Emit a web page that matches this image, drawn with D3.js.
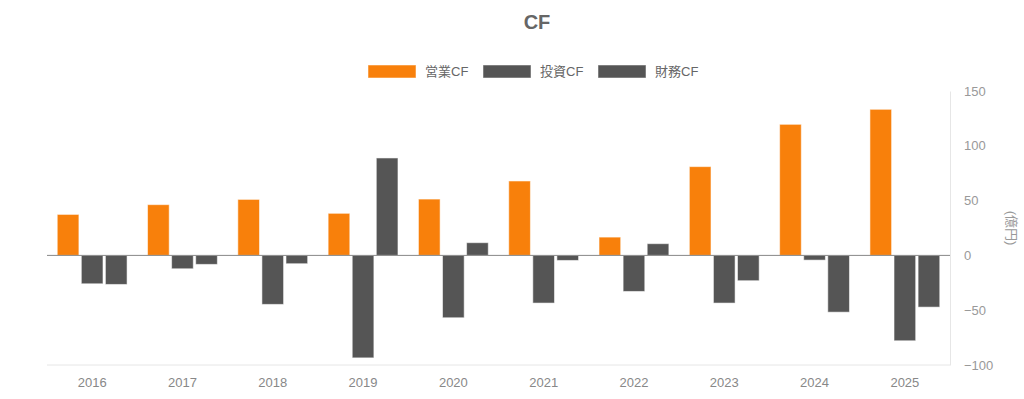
<!DOCTYPE html>
<html>
<head>
<meta charset="utf-8">
<script src="https://cdn.jsdelivr.net/npm/d3@7"></script>
<style>
  body { margin: 0; background: #fff; }
  text { font-family: "Liberation Sans", "Noto Sans CJK JP", sans-serif; }
</style>
</head>
<body>
<div id="chart"></div>
<script>
// data (億円)
const years = ["2016", "2017", "2018", "2019", "2020", "2021", "2022", "2023", "2024", "2025"];
const seriesNames = ["営業CF", "投資CF", "財務CF"];
const eigyo = [37.4, 46.3, 51.1, 38.4, 51.4, 67.9, 16.7, 81.0, 119.6, 133.3];
const toshi = [-25.9, -12.2, -44.7, -93.5, -56.9, -43.5, -32.9, -43.5, -4.3, -77.9];
const zaimu = [-26.5, -8.2, -7.6, 88.9, 11.6, -4.6, 10.7, -23.1, -51.8, -47.2];
const yTicks = [-100, -50, 0, 50, 100, 150];
const colors = ["#f8800b", "#555555", "#555555"];

const W = 1024, H = 399;
const plot = { left: 47, right: 950, top: 91, bottom: 365 };

const svg = d3.select("#chart").append("svg")
    .attr("width", W)
    .attr("height", H);

const x = d3.scaleBand().domain(years).range([plot.left, plot.right]).padding(0);
const bw = x.bandwidth();
const xs = d3.scaleBand().domain(seriesNames)
    .range([bw * 0.1, bw * 0.9])
    .paddingInner(0.1).paddingOuter(0.05);
const y = d3.scaleLinear().domain([-100, 150]).range([plot.bottom, plot.top]);

// title
svg.append("text")
    .attr("x", 537).attr("y", 29)
    .attr("text-anchor", "middle")
    .style("font-size", "20px")
    .style("font-weight", "bold")
    .attr("fill", "#666")
    .text("CF");

// legend
const legendX = [368, 483, 598];
seriesNames.forEach((name, i) => {
    svg.append("rect")
        .attr("x", legendX[i]).attr("y", 65)
        .attr("width", 48).attr("height", 13)
        .attr("fill", colors[i])
        .attr("stroke", "rgba(255,255,255,0.5)");
    svg.append("text")
        .attr("x", legendX[i] + 57).attr("y", 76)
        .style("font-size", "13px")
        .attr("fill", "#666")
        .text(name);
});

// bottom line
svg.append("line")
    .attr("x1", plot.left).attr("x2", plot.right)
    .attr("y1", plot.bottom).attr("y2", plot.bottom)
    .attr("stroke", "#e6e6e6");

// right axis
const yAxis = svg.append("g")
    .attr("transform", `translate(${plot.right},0)`)
    .call(d3.axisRight(y).tickValues(yTicks).tickSize(0).tickPadding(14));
yAxis.select(".domain").attr("stroke", "#e6e6e6");
yAxis.selectAll("text")
    .attr("fill", "#999")
    .style("font-size", "13px")
    .style("font-family", "'Liberation Sans', sans-serif");

svg.append("text")
    .attr("transform", "translate(1007,228) rotate(90)")
    .attr("text-anchor", "middle")
    .style("font-size", "13px")
    .attr("fill", "#999")
    .text("(億円)");

// x labels
const xAxis = svg.append("g")
    .attr("transform", `translate(0,${plot.bottom})`)
    .call(d3.axisBottom(x).tickSize(0).tickPadding(13));
xAxis.select(".domain").remove();
xAxis.selectAll("text")
    .attr("fill", "#888")
    .style("font-size", "13px")
    .style("font-family", "'Liberation Sans', sans-serif");

// bars
const table = years.map((yr, i) => ({
    year: yr,
    values: [eigyo[i], toshi[i], zaimu[i]].map((v, j) => ({ key: seriesNames[j], v, c: colors[j] }))
}));

svg.selectAll(".grp")
    .data(table)
    .enter().append("g")
    .attr("class", "grp")
    .attr("transform", d => `translate(${x(d.year)},0)`)
    .selectAll("rect")
    .data(d => d.values)
    .enter().append("rect")
    .attr("x", d => xs(d.key))
    .attr("y", d => y(Math.max(0, d.v)))
    .attr("width", xs.bandwidth())
    .attr("height", d => Math.abs(y(d.v) - y(0)))
    .attr("fill", d => d.c)
    .attr("stroke", "rgba(255,255,255,0.55)")
    .attr("stroke-width", 1);

// zero line
svg.append("line")
    .attr("x1", plot.left).attr("x2", plot.right)
    .attr("y1", y(0)).attr("y2", y(0))
    .attr("stroke", "#888")
    .attr("stroke-width", 1);
</script>
</body>
</html>
